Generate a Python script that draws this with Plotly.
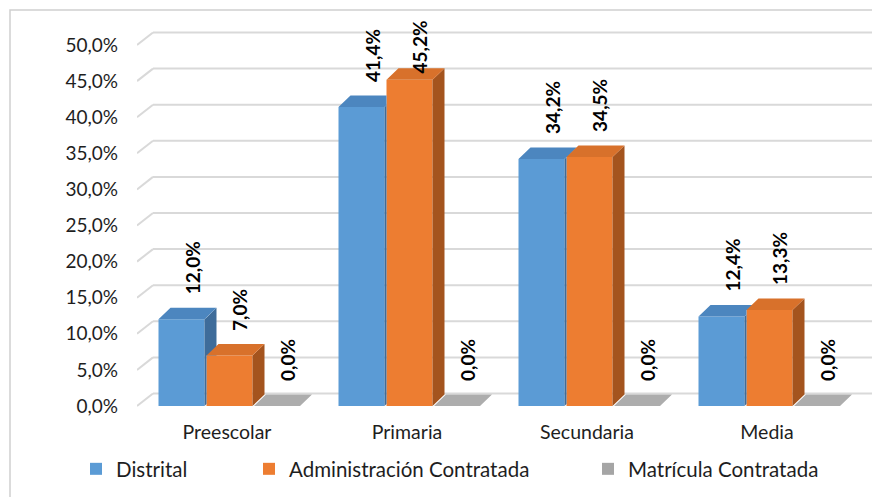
import plotly.graph_objects as go

# ---------------- data ----------------
categories = ["Preescolar", "Primaria", "Secundaria", "Media"]
distrital = [12.0, 41.4, 34.2, 12.4]
administracion = [7.0, 45.2, 34.5, 13.3]
matricula = [0.0, 0.0, 0.0, 0.0]
series_names = ["Distrital", "Administración Contratada", "Matrícula Contratada"]
y_tick_values = [0, 5, 10, 15, 20, 25, 30, 35, 40, 45, 50]
y_tick_labels = ["0,0%", "5,0%", "10,0%", "15,0%", "20,0%", "25,0%",
                 "30,0%", "35,0%", "40,0%", "45,0%", "50,0%"]

series_values = [distrital, administracion, matricula]

# ---------------- style / geometry ----------------
PAGE = 8                       # default body margin of the html page
W, H = 880 - PAGE, 497 - PAGE
ML, MR, MT, MB = 137 - PAGE, 7, 20 - PAGE, 85
PLOT_W = W - ML - MR
PLOT_H = H - MT - MB
PX_X = 180.0      # pixels per category unit
PX_Y = 7.22       # pixels per percentage point
Y0_PX = 406 - PAGE  # pixel row of value 0 (front plane)

X_MIN = -0.5
X_MAX = X_MIN + PLOT_W / PX_X
Y_MIN = -(MT + PLOT_H - Y0_PX) / PX_Y
Y_MAX = (Y0_PX - MT) / PX_Y

DXB, DYB = 16 / PX_X, 12.5 / PX_Y      # back wall depth
DX, DY = 12 / PX_X, 11.5 / PX_Y        # bar depth
BAR_W = 46 / PX_X
BAR_OFF = [-45.5 / PX_X, 2.5 / PX_X, 50 / PX_X]
LABEL_DX = 10.5 / PX_X
LABEL_GAP = 11 / PX_Y
LABEL_MAX = 45.7

FONT = "Lato"
TXT = "#1E1E1E"
GRID = "#D9D9D9"

front_cols = ["#5B9BD5", "#ED7D31", "#A5A5A5"]
top_cols = ["#4C86BF", "#D8712B", "#ADADAD"]
side_cols = ["#3E6C9A", "#A4541E", "#8C8C8C"]


def clip_half(poly, axis, c, keep_ge):
    out = []
    n = len(poly)
    for i in range(n):
        p, q = poly[i], poly[(i + 1) % n]
        ip = p[axis] >= c if keep_ge else p[axis] <= c
        iq = q[axis] >= c if keep_ge else q[axis] <= c
        if ip:
            out.append(p)
        if ip != iq:
            t = (c - p[axis]) / (q[axis] - p[axis])
            out.append((p[0] + t * (q[0] - p[0]), p[1] + t * (q[1] - p[1])))
    return out


def subtract_front(poly, x0n, vn):
    """remove the part hidden by the next bar's front face (x>=x0n, y<vn)"""
    if vn is None or vn <= min(pt[1] for pt in poly):
        return [poly]
    a = clip_half(poly, 0, x0n, False)
    b = clip_half(clip_half(poly, 0, x0n, True), 1, vn, True)
    return [p for p in (a, b) if len(p) >= 3]


def to_xy(polys):
    xs, ys = [], []
    for p in polys:
        for pt in p + [p[0]]:
            xs.append(pt[0])
            ys.append(pt[1])
        xs.append(None)
        ys.append(None)
    return xs, ys


def paper_x(px):
    return (px - PAGE - ML) / PLOT_W


def paper_y(py):
    return (MT + PLOT_H - (py - PAGE)) / PLOT_H


fig = go.Figure()
cat_x = list(range(len(categories)))
legends = ["legend", "legend2", "legend3"]

# front faces as bars
for s, vals in enumerate(series_values):
    fig.add_trace(go.Bar(
        x=cat_x, y=vals, name=series_names[s],
        width=BAR_W, offset=BAR_OFF[s] - BAR_W / 2,
        marker=dict(color=front_cols[s], line=dict(width=0)),
        legend=legends[s], hoverinfo="skip",
    ))

# top and side faces
for s, vals in enumerate(series_values):
    sides, tops = [], []
    for i, v in enumerate(vals):
        x0 = cat_x[i] + BAR_OFF[s] - BAR_W / 2
        x1 = x0 + BAR_W
        if s + 1 < len(series_values):
            vn = series_values[s + 1][i]
            x0n = cat_x[i] + BAR_OFF[s + 1] - BAR_W / 2
        else:
            vn, x0n = None, None
        top = [(x0, v), (x1, v), (x1 + DX, v + DY), (x0 + DX, v + DY)]
        side = [(x1, 0), (x1, v), (x1 + DX, v + DY), (x1 + DX, DY)]
        tops += subtract_front(top, x0n, vn)
        if v > 0:
            sides += subtract_front(side, x0n, vn)
    if sides:
        xs, ys = to_xy(sides)
        fig.add_trace(go.Scatter(x=xs, y=ys, mode="lines", fill="toself",
                                 fillcolor=side_cols[s], line=dict(width=0),
                                 showlegend=False, hoverinfo="skip"))
    xs, ys = to_xy(tops)
    fig.add_trace(go.Scatter(x=xs, y=ys, mode="lines", fill="toself",
                             fillcolor=top_cols[s], line=dict(width=0),
                             showlegend=False, hoverinfo="skip"))

# back-wall gridlines (with perspective side-wall segment)
shapes = []
for v in y_tick_values:
    shapes.append(dict(type="line", xref="x", yref="y", layer="below",
                       x0=X_MIN, y0=v, x1=X_MIN + DXB, y1=v + DYB,
                       line=dict(color=GRID, width=2)))
    shapes.append(dict(type="line", xref="x", yref="y", layer="below",
                       x0=X_MIN + DXB, y0=v + DYB, x1=X_MAX, y1=v + DYB,
                       line=dict(color=GRID, width=2)))

# chart border (light gray frame)
shapes.append(dict(type="rect", xref="paper", yref="paper",
                   x0=paper_x(10), x1=paper_x(900), y0=paper_y(10), y1=paper_y(520),
                   line=dict(color="#D0D0D0", width=1.5), fillcolor="rgba(0,0,0,0)"))

# data labels
annotations = []
for s, vals in enumerate(series_values):
    for i, v in enumerate(vals):
        yl = min(v + DY + LABEL_GAP, LABEL_MAX)
        annotations.append(dict(
            x=cat_x[i] + BAR_OFF[s] + LABEL_DX, y=yl, xref="x", yref="y",
            text=f"{v:.1f}".replace(".", ",") + "%", textangle=-90,
            showarrow=False, xanchor="center", yanchor="bottom",
            font=dict(family=FONT, size=19, color="#000000", weight="bold"),
        ))

legend_text_start = [118, 291, 630]
legend_common = dict(xref="paper", yref="paper", xanchor="left",
                     yanchor="middle", y=paper_y(469), bgcolor="rgba(0,0,0,0)",
                     font=dict(family=FONT, size=20.5, color=TXT), borderwidth=0)

fig.update_layout(
    width=W, height=H,
    margin=dict(l=ML, r=MR, t=MT, b=MB, pad=0, autoexpand=False),
    paper_bgcolor="white", plot_bgcolor="white",
    barmode="overlay",
    font=dict(family=FONT, size=19, color=TXT),
    xaxis=dict(range=[X_MIN, X_MAX], tickvals=cat_x, ticktext=categories,
               showgrid=False, zeroline=False, showline=False, ticks="",
               ticklabelstandoff=6, tickangle=0, automargin=False,
               tickfont=dict(family=FONT, size=19.5, color=TXT),
               fixedrange=True),
    yaxis=dict(range=[Y_MIN, Y_MAX], tickvals=y_tick_values, ticktext=y_tick_labels,
               showgrid=False, zeroline=False, showline=False, ticks="",
               ticklabelstandoff=18, automargin=False,
               tickfont=dict(family=FONT, size=19, color=TXT),
               fixedrange=True),
    shapes=shapes,
    annotations=annotations,
    legend=dict(x=paper_x(legend_text_start[0] - 42), **legend_common),
    legend2=dict(x=paper_x(legend_text_start[1] - 42), **legend_common),
    legend3=dict(x=paper_x(legend_text_start[2] - 42), **legend_common),
    hovermode=False,
    showlegend=True,
)

fig.write_html("out.html")
